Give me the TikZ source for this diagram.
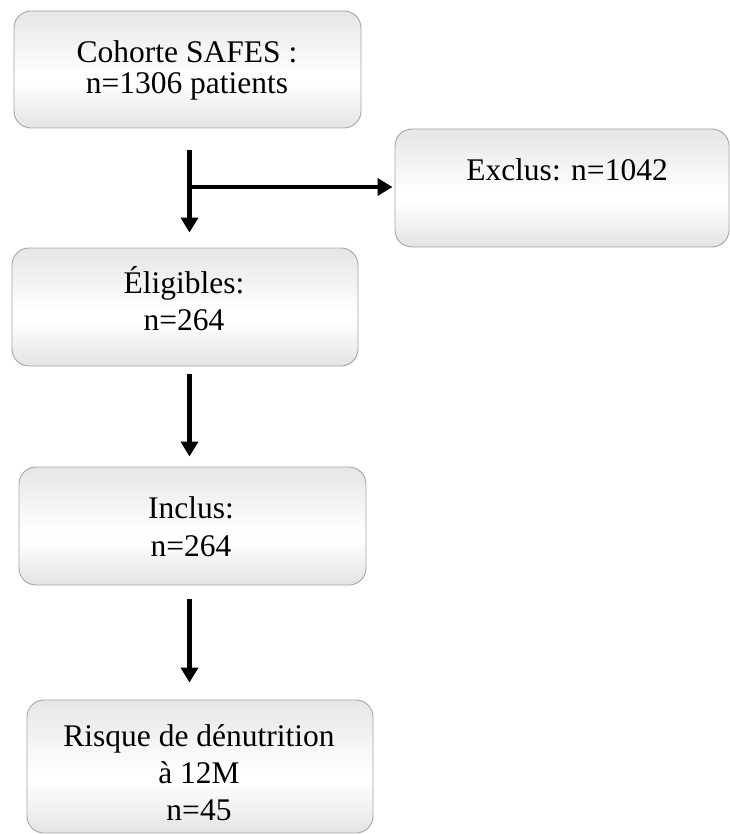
\documentclass[tikz,border=0pt]{standalone}
\usepackage{fontspec}
\setmainfont{Liberation Serif}
\usetikzlibrary{arrows.meta}
\definecolor{boxtop}{RGB}{212,212,212}
\definecolor{boxbot}{RGB}{200,200,200}
\definecolor{boxline}{RGB}{165,165,165}
\pgfdeclareverticalshading{boxshade}{100bp}{color(0bp)=(boxbot); color(6bp)=(boxbot); color(44bp)=(white); color(48bp)=(white); color(94bp)=(boxtop); color(100bp)=(boxtop)}
\tikzset{
  flowbox/.style={draw=boxline, line width=0.9pt, rounded corners=17pt, shading=boxshade, inner sep=0pt},
  txt/.style={anchor=base, inner sep=0pt, font=\fontsize{31.5}{37}\selectfont},
  arr/.style={line width=4.5pt, -{Triangle[width=17pt,length=15pt]}}
}
\begin{document}
\begin{tikzpicture}[x=1pt,y=-1pt]
\useasboundingbox (0,0) rectangle (729,834);
% boxes
\node[flowbox, minimum width=347pt, minimum height=117pt] (coh) at (187.5,69.5) {};
\node[flowbox, minimum width=334pt, minimum height=118pt] (excl) at (562,188) {};
\node[flowbox, minimum width=346pt, minimum height=118pt] (elig) at (185,307) {};
\node[flowbox, minimum width=347pt, minimum height=118pt] (incl) at (192.5,526) {};
\node[flowbox, minimum width=346pt, minimum height=133pt] (risk) at (200,766.5) {};
% texts
\node[txt] (cohA) at (187,63) {Cohorte SAFES :};
\node[txt] (cohB) at (187,94) {n=1306 patients};
\node[txt] (exclA) at (567,181) {Exclus: n=1042};
\node[txt] (eligA) at (184,293) {Éligibles:};
\node[txt] (eligB) at (184,330) {n=264};
\node[txt] (inclA) at (191,518) {Inclus:};
\node[txt] (inclB) at (191,556) {n=264};
\node[txt] (riskA) at (199,746) {Risque de dénutrition};
\node[txt] (riskB) at (199,783) {à 12M};
\node[txt] (riskC) at (199,820) {n=45};
% connectors
\coordinate (s1) at (189.5,150);
\coordinate (j1) at (189.5,187);
\coordinate (s2) at (189.5,374);
\coordinate (s3) at (189.5,599);
\draw[arr, shorten >=15pt] (s1) -- (s1 |- elig.north);
\draw[arr, shorten >=2pt] ([xshift=-2.25pt]j1) -- (j1 -| excl.west);
\draw[arr, shorten >=10pt] (s2) -- (s2 |- incl.north);
\draw[arr, shorten >=17pt] (s3) -- (s3 |- risk.north);
\end{tikzpicture}
\end{document}
